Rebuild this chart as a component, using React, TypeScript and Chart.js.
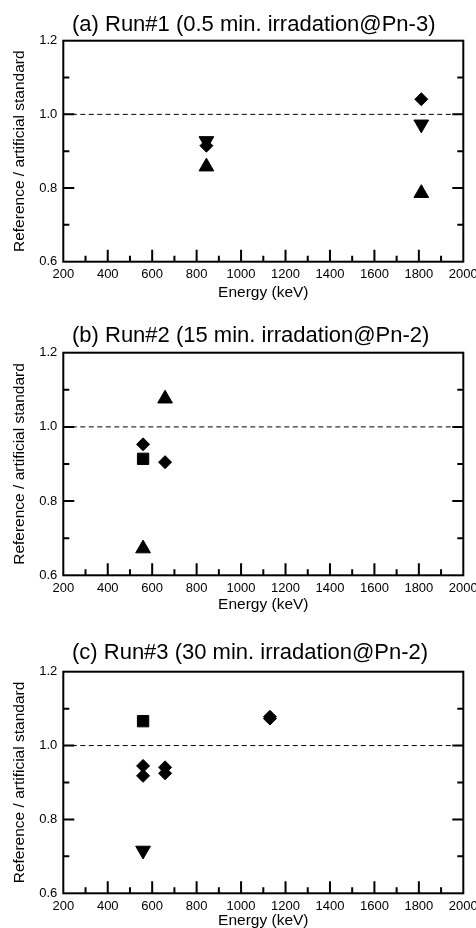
import React, { useEffect, useRef } from 'react';
import { Chart, registerables } from 'chart.js';

Chart.register(...registerables);

const FONT = '"Liberation Sans", Arial, Helvetica, sans-serif';

// ---------- texts ----------
const PANEL_TITLES = [
  '(a) Run#1 (0.5 min. irradation@Pn-3)',
  '(b) Run#2 (15 min. irradation@Pn-2)',
  '(c) Run#3 (30 min. irradation@Pn-2)',
];
const X_AXIS_TITLE = 'Energy (keV)';
const Y_AXIS_TITLE = 'Reference / artificial standard';

// ---------- axes ----------
const X_MIN = 200;
const X_MAX = 2000;
const X_STEP = 200;
const X_MINOR = 100;
const Y_MIN = 0.6;
const Y_MAX = 1.2;
const Y_STEP = 0.2;
const Y_MINOR = 0.1;
const REFERENCE_LINE = 1.0;

// ---------- panel (a) ----------
const A_TRI_DOWN_E = [844, 1811];
const A_TRI_DOWN = [0.928, 0.973];
const A_DIAMOND_E = [844, 1811];
const A_DIAMOND = [0.915, 1.041];
const A_TRI_UP_E = [844, 1811];
const A_TRI_UP = [0.858, 0.786];

// ---------- panel (b) ----------
const B_DIAMOND_E = [559, 658];
const B_DIAMOND = [0.953, 0.905];
const B_SQUARE_E = [559];
const B_SQUARE = [0.914];
const B_TRI_UP_E = [559, 658];
const B_TRI_UP = [0.672, 1.076];

// ---------- panel (c) ----------
const C_SQUARE_E = [559];
const C_SQUARE = [1.066];
const C_DIAMOND_E = [559, 559, 658, 658, 1130, 1130];
const C_DIAMOND = [0.945, 0.918, 0.941, 0.925, 1.073, 1.078];
const C_TRI_DOWN_E = [559];
const C_TRI_DOWN = [0.716];

// ---------- geometry ----------
const CANVAS_W = 476;
const CHART_LEFT = 63.3;
const CHART_RIGHT = 463.3;
const TITLE_X = 72;

type Marker = 'diamond' | 'square' | 'up' | 'down';

function series(xs: number[], ys: number[], marker: Marker) {
  let pointStyle: any = 'rectRot';
  let radius = 6.5;
  let rotation = 0;
  if (marker === 'square') { pointStyle = 'rect'; radius = 8; }
  if (marker === 'up') { pointStyle = 'triangle'; radius = 8.5; }
  if (marker === 'down') { pointStyle = 'triangle'; radius = 8.5; rotation = 180; }
  return {
    data: xs.map((x, i) => ({ x, y: ys[i] })),
    pointStyle,
    pointRadius: radius,
    pointHoverRadius: radius,
    pointRotation: rotation,
    backgroundColor: '#000',
    borderColor: '#000',
    borderWidth: 1,
    showLine: false,
  };
}

function referenceLine() {
  return {
    data: [
      { x: X_MIN, y: REFERENCE_LINE },
      { x: X_MAX, y: REFERENCE_LINE },
    ],
    showLine: true,
    borderColor: '#000',
    borderWidth: 1,
    borderDash: [5, 3.5],
    pointRadius: 0,
    pointHoverRadius: 0,
    fill: false,
  };
}

const frameTicksPlugin = {
  id: 'frameTicks',
  afterDatasetsDraw(chart: any, _args: any, opts: any) {
    const { ctx, chartArea: a, scales } = chart;
    const x = scales.x;
    const y = scales.y;
    ctx.save();
    ctx.strokeStyle = '#000';
    ctx.lineWidth = 2;
    ctx.strokeRect(a.left, a.top, a.right - a.left, a.bottom - a.top);
    ctx.beginPath();
    for (let v = X_MIN + X_MINOR; v < X_MAX; v += X_MINOR) {
      const px = x.getPixelForValue(v);
      const major = Math.abs((v - X_MIN) % X_STEP) < 1e-6;
      const len = major ? 12 : 6;
      ctx.moveTo(px, a.bottom);
      ctx.lineTo(px, a.bottom - len);
    }
    const n = Math.round((Y_MAX - Y_MIN) / Y_MINOR);
    for (let i = 1; i < n; i++) {
      const v = Y_MIN + i * Y_MINOR;
      const py = y.getPixelForValue(v);
      const major = i % Math.round(Y_STEP / Y_MINOR) === 0;
      const len = major ? 11 : 6;
      ctx.moveTo(a.left, py);
      ctx.lineTo(a.left + len, py);
      ctx.moveTo(a.right, py);
      ctx.lineTo(a.right - len, py);
    }
    ctx.stroke();
    ctx.font = `22px ${FONT}`;
    ctx.fillStyle = '#000';
    ctx.textAlign = 'left';
    ctx.textBaseline = 'alphabetic';
    ctx.fillText(opts.text, TITLE_X, opts.baseline);
    ctx.restore();
  },
};

type PanelProps = {
  top: number;
  height: number;
  chartTop: number;
  chartBottom: number;
  titleBaseline: number;
  title: string;
  datasets: any[];
};

function Panel({ top, height, chartTop, chartBottom, titleBaseline, title, datasets }: PanelProps) {
  const ref = useRef<HTMLCanvasElement | null>(null);
  useEffect(() => {
    if (!ref.current) return;
    const chart = new Chart(ref.current, {
      type: 'scatter',
      data: { datasets: [...datasets, referenceLine()] },
      plugins: [frameTicksPlugin as any],
      options: {
        responsive: false,
        animation: false,
        devicePixelRatio: 1,
        layout: {
          padding: { top: chartTop, right: CANVAS_W - CHART_RIGHT, bottom: 0, left: 0 },
        },
        plugins: {
          legend: { display: false },
          tooltip: { enabled: false },
          title: { display: false },
          frameTicks: { text: title, baseline: titleBaseline },
        } as any,
        scales: {
          x: {
            type: 'linear',
            min: X_MIN,
            max: X_MAX,
            grid: { display: false, drawTicks: false },
            border: { display: false },
            ticks: {
              stepSize: X_STEP,
              padding: 5,
              color: '#000',
              maxRotation: 0,
              autoSkip: false,
              font: { family: FONT, size: 13 },
              callback: (v: any) => String(v),
            },
            title: {
              display: true,
              text: X_AXIS_TITLE,
              color: '#000',
              font: { family: FONT, size: 15.5, lineHeight: 1 },
              padding: { top: 0, bottom: 0 },
            },
            afterFit: (s: any) => {
              s.height = height - chartBottom;
              s.paddingLeft = 0;
              s.paddingRight = 0;
            },
          },
          y: {
            type: 'linear',
            min: Y_MIN,
            max: Y_MAX,
            grid: { display: false, drawTicks: false },
            border: { display: false },
            ticks: {
              stepSize: Y_STEP,
              padding: 6,
              color: '#000',
              font: { family: FONT, size: 13 },
              callback: (v: any) => Number(v).toFixed(1),
            },
            title: {
              display: true,
              text: Y_AXIS_TITLE,
              color: '#000',
              font: { family: FONT, size: 15.5, lineHeight: 1 },
              padding: { top: 11.75, bottom: 0 },
            },
            afterFit: (s: any) => {
              s.width = CHART_LEFT;
              s.paddingTop = 0;
              s.paddingBottom = 0;
            },
          },
        },
      } as any,
    });
    return () => chart.destroy();
  }, []);
  return (
    <canvas
      ref={ref}
      width={CANVAS_W}
      height={height}
      style={{ position: 'absolute', left: 0, top, width: CANVAS_W, height, display: 'block' }}
    />
  );
}

export default function App() {
  const panelA = [
    series(A_TRI_DOWN_E, A_TRI_DOWN, 'down'),
    series(A_DIAMOND_E, A_DIAMOND, 'diamond'),
    series(A_TRI_UP_E, A_TRI_UP, 'up'),
  ];
  const panelB = [
    series(B_DIAMOND_E, B_DIAMOND, 'diamond'),
    series(B_SQUARE_E, B_SQUARE, 'square'),
    series(B_TRI_UP_E, B_TRI_UP, 'up'),
  ];
  const panelC = [
    series(C_SQUARE_E, C_SQUARE, 'square'),
    series(C_DIAMOND_E, C_DIAMOND, 'diamond'),
    series(C_TRI_DOWN_E, C_TRI_DOWN, 'down'),
  ];
  return (
    <div style={{ position: 'absolute', left: 0, top: 0, width: CANVAS_W, height: 928, background: '#fff', overflow: 'hidden' }}>
      <Panel top={0} height={300} chartTop={40.7} chartBottom={261.7} titleBaseline={30.7} title={PANEL_TITLES[0]} datasets={panelA} />
      <Panel top={310} height={302} chartTop={42.7} chartBottom={265.3} titleBaseline={31.7} title={PANEL_TITLES[1]} datasets={panelB} />
      <Panel top={612} height={316} chartTop={59.7} chartBottom={281.3} titleBaseline={47.3} title={PANEL_TITLES[2]} datasets={panelC} />
    </div>
  );
}
